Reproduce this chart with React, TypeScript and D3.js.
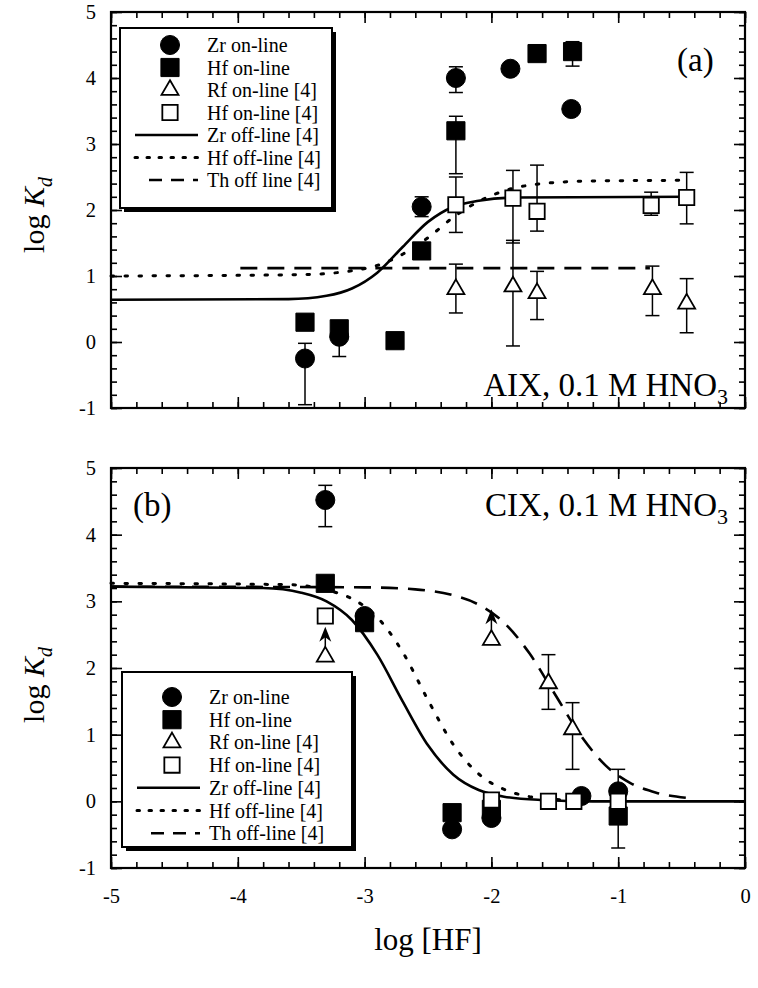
import { useRef, useEffect } from 'react';
import * as d3 from 'd3';

// ---- axes ----
const xMajor = [-5, -4, -3, -2, -1, 0];
const yMajor = [-1, 0, 1, 2, 3, 4, 5];

// ---- panel (a): AIX ----
const aZrX = [-3.47, -3.2, -2.55, -2.28, -1.85, -1.37];
const aZrY = [-0.25, 0.08, 2.05, 4.0, 4.14, 3.53];
const aZrUp = [0.23, 0, 0.15, 0.17, 0, 0];
const aZrDn = [0.7, 0.3, 0.15, 0.22, 0, 0];

const aHfX = [-3.47, -3.2, -2.76, -2.55, -2.28, -1.64, -1.36];
const aHfY = [0.3, 0.2, 0.02, 1.38, 3.2, 4.37, 4.4];
const aHfUp = [0, 0, 0, 0.12, 0.22, 0, 0.15];
const aHfDn = [0, 0, 0, 0.12, 0.65, 0, 0.22];

const aRfX = [-2.28, -1.83, -1.64, -0.73, -0.46];
const aRfY = [0.8, 0.84, 0.74, 0.8, 0.58];
const aRfUp = [0.38, 0.7, 0.33, 0.35, 0.38];
const aRfDn = [0.36, 0.9, 0.4, 0.4, 0.44];

const aHf4X = [-2.28, -1.83, -1.64, -0.74, -0.46];
const aHf4Y = [2.08, 2.18, 1.98, 2.07, 2.19];
const aHf4Up = [0.42, 0.42, 0.7, 0.2, 0.38];
const aHf4Dn = [0.42, 0.68, 0.3, 0.15, 0.4];

const aZrOffX = [-5, -3.6, -3.3, -3.1, -2.9, -2.7, -2.5, -2.3, -2.1, -1.8, -0.45];
const aZrOffY = [0.64, 0.65, 0.7, 0.81, 1.05, 1.44, 1.82, 2.05, 2.14, 2.19, 2.2];
const aHfOffX = [-5, -3.5, -3.1, -2.9, -2.7, -2.5, -2.3, -2.1, -1.9, -1.6, -1.2, -0.45];
const aHfOffY = [1.0, 1.02, 1.08, 1.16, 1.33, 1.58, 1.89, 2.13, 2.29, 2.4, 2.44, 2.45];
const aThOffX = [-3.98, -0.75];
const aThOffY = [1.12, 1.12];

// ---- panel (b): CIX ----
const bZrX = [-3.31, -3.0, -2.31, -2.0, -1.29, -1.0];
const bZrY = [4.52, 2.78, -0.42, -0.25, 0.08, 0.15];
const bZrUp = [0.22, 0, 0.08, 0, 0, 0.33];
const bZrDn = [0.4, 0, 0.08, 0, 0, 0.33];

const bHfX = [-3.31, -3.0, -2.31, -2.0, -1.0];
const bHfY = [3.27, 2.68, -0.17, -0.12, -0.22];
const bHfUp = [0.05, 0, 0, 0, 0.3];
const bHfDn = [0.05, 0, 0, 0, 0.48];

const bRfX = [-3.31, -2.0, -1.55, -1.36];
const bRfY = [2.17, 2.42, 1.77, 1.08];
const bRfUp = [0, 0, 0.43, 0.4];
const bRfDn = [0, 0, 0.39, 0.6];
const bRfArrow = [2.62, 2.88, 0, 0]; // lower limits (arrow tip), 0 = none

const bHf4X = [-3.31, -2.0, -1.55, -1.35, -1.0];
const bHf4Y = [2.78, 0.02, 0.0, 0.0, 0.0];

const bZrOffX = [-5, -3.8, -3.5, -3.3, -3.1, -2.9, -2.7, -2.5, -2.3, -2.1, -1.9, -1.6, -1.2, 0];
const bZrOffY = [3.22, 3.2, 3.13, 3.0, 2.72, 2.2, 1.5, 0.84, 0.4, 0.17, 0.07, 0.02, 0, 0];
const bHfOffX = [-5, -3.6, -3.3, -3.1, -2.9, -2.7, -2.5, -2.3, -2.1, -1.9, -1.7, -1.5, -1.2];
const bHfOffY = [3.27, 3.25, 3.17, 3.04, 2.76, 2.24, 1.52, 0.85, 0.41, 0.18, 0.07, 0.03, 0];
const bThOffX = [-5, -3, -2.6, -2.3, -2.1, -1.9, -1.7, -1.5, -1.3, -1.1, -0.9, -0.7, -0.45];
const bThOffY = [3.22, 3.21, 3.18, 3.09, 2.95, 2.68, 2.22, 1.61, 1.0, 0.54, 0.27, 0.13, 0.05];

const legendA = ['Zr on-line', 'Hf on-line', 'Rf on-line [4]', 'Hf on-line [4]', 'Zr off-line [4]', 'Hf off-line [4]', 'Th off line [4]'];
const legendB = ['Zr on-line', 'Hf on-line', 'Rf on-line [4]', 'Hf on-line [4]', 'Zr off-line [4]', 'Hf off-line [4]', 'Th off-line [4]'];

const FONT = '"Liberation Serif", "Times New Roman", serif';
const W = 758;
const H = 988;
const X0 = 111;
const X1 = 745;

const zip = (xs, ys) => xs.map((v, i) => [v, ys[i]]);

const sym = {
  circle: d3.symbol().type(d3.symbolCircle).size(285)(),
  square: d3.symbol().type(d3.symbolSquare).size(330)(),
  osquare: d3.symbol().type(d3.symbolSquare).size(235)(),
  triangle: d3.symbol().type(d3.symbolTriangle).size(125)(),
};

function drawPanel(svg, x, top, bottom, p) {
  const y = d3.scaleLinear().domain([-1, 5]).range([bottom, top]);
  const g = svg.append('g');
  const minorX = d3.range(-5, 0.001, 0.2);
  const minorY = d3.range(-1, 5.001, 0.2);

  const styleAxis = (a) => {
    a.select('.domain').remove();
    a.selectAll('line').attr('stroke', '#000').attr('stroke-width', 1.6);
  };

  // minor ticks all sides
  g.append('g').attr('transform', `translate(0,${bottom})`)
    .call(d3.axisBottom(x).tickValues(minorX).tickSize(-6).tickFormat(() => '')).call(styleAxis);
  g.append('g').attr('transform', `translate(0,${top})`)
    .call(d3.axisTop(x).tickValues(minorX).tickSize(-6).tickFormat(() => '')).call(styleAxis);
  g.append('g').attr('transform', `translate(${X0},0)`)
    .call(d3.axisLeft(y).tickValues(minorY).tickSize(-6).tickFormat(() => '')).call(styleAxis);
  g.append('g').attr('transform', `translate(${X1},0)`)
    .call(d3.axisRight(y).tickValues(minorY).tickSize(-6).tickFormat(() => '')).call(styleAxis);

  // major ticks
  const bx = g.append('g').attr('transform', `translate(0,${bottom})`)
    .call(d3.axisBottom(x).tickValues(xMajor).tickSize(-11).tickPadding(20)
      .tickFormat((d) => (p.xLabels ? String(d) : ''))).call(styleAxis);
  g.append('g').attr('transform', `translate(0,${top})`)
    .call(d3.axisTop(x).tickValues(xMajor).tickSize(-11).tickFormat(() => '')).call(styleAxis);
  const ly = g.append('g').attr('transform', `translate(${X0},0)`)
    .call(d3.axisLeft(y).tickValues(yMajor).tickSize(-11).tickPadding(15).tickFormat((d) => String(d)))
    .call(styleAxis);
  g.append('g').attr('transform', `translate(${X1},0)`)
    .call(d3.axisRight(y).tickValues(yMajor).tickSize(-11).tickFormat(() => '')).call(styleAxis);
  [bx, ly].forEach((a) => a.attr('font-family', FONT).attr('font-size', 20.5)
    .selectAll('text').attr('fill', '#000'));
  bx.selectAll('text').attr('dy', '0.71em');

  // frame
  g.append('rect').attr('x', X0).attr('y', top).attr('width', X1 - X0).attr('height', bottom - top)
    .attr('fill', 'none').attr('stroke', '#000').attr('stroke-width', 2.2);

  // curves
  const line = d3.line().x((d) => x(d[0])).y((d) => y(d[1])).curve(d3.curveMonotoneX);
  const plot = g.append('g');
  plot.append('path').attr('d', line(p.zrOff)).attr('fill', 'none').attr('stroke', '#000').attr('stroke-width', 2.6);
  plot.append('path').attr('d', line(p.hfOff)).attr('fill', 'none').attr('stroke', '#000').attr('stroke-width', 3)
    .attr('stroke-dasharray', '2.5,11.5').attr('stroke-linecap', 'round');
  plot.append('path').attr('d', line(p.thOff)).attr('fill', 'none').attr('stroke', '#000').attr('stroke-width', 2.6)
    .attr('stroke-dasharray', '17,10');

  // error bars
  const errs = plot.append('g').attr('stroke', '#000').attr('stroke-width', 1.5);
  p.series.forEach((s) => {
    s.x.forEach((xv, i) => {
      const up = s.up ? s.up[i] : 0;
      const dn = s.dn ? s.dn[i] : 0;
      if (!up && !dn) return;
      const cx = x(xv);
      const yt = y(s.y[i] + up);
      const yb = y(s.y[i] - dn);
      errs.append('line').attr('x1', cx).attr('x2', cx).attr('y1', yt).attr('y2', yb);
      if (up) errs.append('line').attr('x1', cx - 7).attr('x2', cx + 7).attr('y1', yt).attr('y2', yt);
      if (dn) errs.append('line').attr('x1', cx - 7).attr('x2', cx + 7).attr('y1', yb).attr('y2', yb);
    });
    if (s.arrow) {
      s.x.forEach((xv, i) => {
        const tip = s.arrow[i];
        if (!tip) return;
        const cx = x(xv);
        errs.append('line').attr('x1', cx).attr('x2', cx).attr('y1', y(s.y[i]) - 6).attr('y2', y(tip) + 6);
        plot.append('path').attr('transform', `translate(${cx},${y(tip)})`)
          .attr('d', 'M0,0 L-6,15 L0,10.5 L6,15 Z').attr('fill', '#000');
      });
    }
  });

  // symbols
  p.series.forEach((s) => {
    s.x.forEach((xv, i) => {
      plot.append('path').attr('transform', `translate(${x(xv)},${y(s.y[i])})`)
        .attr('d', sym[s.shape])
        .attr('fill', s.open ? '#fff' : '#000')
        .attr('stroke', '#000').attr('stroke-width', s.open ? 1.8 : 1);
    });
  });

  // legend
  const L = p.legend;
  const lg = g.append('g');
  lg.append('rect').attr('x', L.x + 4).attr('y', L.y + 4).attr('width', L.w).attr('height', L.h).attr('fill', '#000');
  lg.append('rect').attr('x', L.x).attr('y', L.y).attr('width', L.w).attr('height', L.h)
    .attr('fill', '#fff').attr('stroke', '#000').attr('stroke-width', 2);
  const shapes = [['circle', false], ['square', false], ['triangle', true], ['osquare', true]];
  L.labels.forEach((t, i) => {
    const ry = L.y + L.first + i * L.dy;
    if (i < 4) {
      lg.append('path').attr('transform', `translate(${L.x + 50},${ry})`).attr('d', sym[shapes[i][0]])
        .attr('fill', shapes[i][1] ? '#fff' : '#000').attr('stroke', '#000').attr('stroke-width', shapes[i][1] ? 1.8 : 1);
    } else {
      const ln = lg.append('line').attr('x1', L.x + 15).attr('x2', L.x + 78).attr('y1', ry).attr('y2', ry)
        .attr('stroke', '#000').attr('stroke-width', 2.6);
      if (i === 5) ln.attr('stroke-dasharray', '2.5,9.5').attr('stroke-width', 3).attr('stroke-linecap', 'round');
      if (i === 6) ln.attr('stroke-dasharray', '13,9').attr('x1', L.x + 29);
    }
    lg.append('text').attr('x', L.x + 87).attr('y', ry).attr('dy', '0.35em')
      .attr('font-family', FONT).attr('font-size', 20).text(t);
  });

  // annotations
  g.append('text').attr('x', p.tag.x).attr('y', p.tag.y).attr('font-family', FONT).attr('font-size', 33).text(p.tag.t);
  const note = g.append('text').attr('x', 728).attr('y', p.note.y).attr('text-anchor', 'end')
    .attr('font-family', FONT).attr('font-size', 33);
  note.append('tspan').text(p.note.t);
  note.append('tspan').attr('font-size', 22).attr('dy', 8).text('3');

  // y title
  const yt = g.append('text').attr('transform', `translate(44,${p.titleY}) rotate(-90)`)
    .attr('text-anchor', 'middle').attr('font-family', FONT).attr('font-size', 30);
  yt.append('tspan').text('log ');
  yt.append('tspan').attr('font-style', 'italic').text('K');
  yt.append('tspan').attr('font-style', 'italic').attr('font-size', 20).attr('dy', 8).text('d');
}

export default function App() {
  const ref = useRef(null);

  useEffect(() => {
    const svg = d3.select(ref.current);
    svg.selectAll('*').remove();
    const x = d3.scaleLinear().domain([-5, 0]).range([X0, X1]);

    drawPanel(svg, x, 12, 408, {
      xLabels: false,
      zrOff: zip(aZrOffX, aZrOffY),
      hfOff: zip(aHfOffX, aHfOffY),
      thOff: zip(aThOffX, aThOffY),
      series: [
        { x: aZrX, y: aZrY, up: aZrUp, dn: aZrDn, shape: 'circle' },
        { x: aHfX, y: aHfY, up: aHfUp, dn: aHfDn, shape: 'square' },
        { x: aRfX, y: aRfY, up: aRfUp, dn: aRfDn, shape: 'triangle', open: true },
        { x: aHf4X, y: aHf4Y, up: aHf4Up, dn: aHf4Dn, shape: 'osquare', open: true },
      ],
      legend: { x: 120, y: 28, w: 212, h: 180, first: 17, dy: 22.5, labels: legendA },
      tag: { x: 677, y: 71, t: '(a)' },
      note: { y: 396, t: 'AIX, 0.1 M HNO' },
      titleY: 215,
    });

    drawPanel(svg, x, 468, 868, {
      xLabels: true,
      zrOff: zip(bZrOffX, bZrOffY),
      hfOff: zip(bHfOffX, bHfOffY),
      thOff: zip(bThOffX, bThOffY),
      series: [
        { x: bZrX, y: bZrY, up: bZrUp, dn: bZrDn, shape: 'circle' },
        { x: bHfX, y: bHfY, up: bHfUp, dn: bHfDn, shape: 'square' },
        { x: bRfX, y: bRfY, up: bRfUp, dn: bRfDn, arrow: bRfArrow, shape: 'triangle', open: true },
        { x: bHf4X, y: bHf4Y, shape: 'osquare', open: true },
      ],
      legend: { x: 122, y: 672, w: 230, h: 175, first: 25, dy: 22.7, labels: legendB },
      tag: { x: 133, y: 516, t: '(b)' },
      note: { y: 516, t: 'CIX, 0.1 M HNO' },
      titleY: 685,
    });

    svg.append('text').attr('x', (X0 + X1) / 2).attr('y', 950).attr('text-anchor', 'middle')
      .attr('font-family', FONT).attr('font-size', 31).text('log [HF]');
  }, []);

  return (
    <div style={{ position: 'absolute', left: 0, top: 0 }}>
      <svg ref={ref} width={W} height={H} style={{ display: 'block', background: '#fff' }} />
    </div>
  );
}
